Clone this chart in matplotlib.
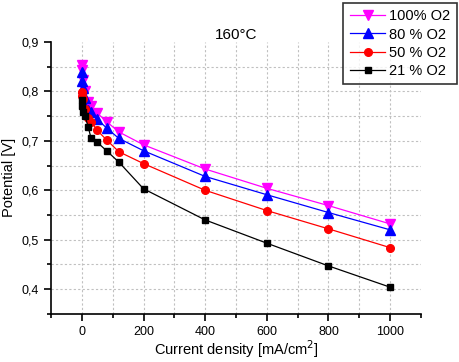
import numpy as np
import matplotlib
matplotlib.use("Agg")
import matplotlib.pyplot as plt
from matplotlib.ticker import MultipleLocator, FuncFormatter

plt.rcParams['font.family'] = ['Liberation Sans', 'DejaVu Sans']

# current density [mA/cm2]
current = [0, 2, 5, 10, 20, 30, 50, 80, 120, 200, 400, 600, 800, 1000]

# potential [V] for each O2 fraction
o2_100 = [0.853, 0.843, 0.823, 0.800, 0.779, 0.771, 0.756, 0.739, 0.718, 0.692, 0.643, 0.604, 0.569, 0.532]
o2_80 = [0.840, 0.822, 0.806, 0.786, 0.763, 0.759, 0.744, 0.726, 0.705, 0.680, 0.628, 0.591, 0.555, 0.520]
o2_50 = [0.798, 0.790, 0.784, 0.764, 0.746, 0.739, 0.721, 0.702, 0.678, 0.654, 0.600, 0.559, 0.522, 0.484]
o2_21 = [0.783, 0.770, 0.759, 0.751, 0.729, 0.705, 0.697, 0.680, 0.657, 0.603, 0.540, 0.493, 0.447, 0.404]

labels = ['100% O2', '80 % O2', '50 % O2', '21 % O2']
colors = ['#ff00ff', '#0000ff', '#ff0000', '#000000']
markers = ['v', '^', 'o', 's']
sizes = [7, 6.5, 5.5, 5]

fig = plt.figure(figsize=(4.6, 3.62), dpi=100)
ax = fig.add_axes([0.111, 0.133, 0.804, 0.751])

series = [o2_100, o2_80, o2_50, o2_21]
handles = []
for y, lab, c, m, s in zip(series, labels, colors, markers, sizes):
    h, = ax.plot(current, y, color=c, marker=m, markersize=s, lw=0.9, label=lab, zorder=3)
    handles.append(h)

ax.set_xlim(-100, 1100)
ax.set_ylim(0.35, 0.9)
ax.xaxis.set_major_locator(MultipleLocator(200))
ax.xaxis.set_minor_locator(MultipleLocator(100))
ax.yaxis.set_major_locator(MultipleLocator(0.1))
ax.yaxis.set_minor_locator(MultipleLocator(0.05))
ax.yaxis.set_major_formatter(FuncFormatter(lambda v, p: f'{v:.1f}'.replace('.', ',')))
ax.xaxis.set_major_formatter(FuncFormatter(lambda v, p: f'{v:.0f}'))

# dotted grid every 100 / 0.05
for gx in np.arange(0, 1001, 100):
    ax.axvline(gx, color='#c0c0c0', lw=0.8, ls=(0, (2, 2)), zorder=1)
for gy in np.arange(0.4, 0.86, 0.05):
    ax.axhline(gy, color='#c0c0c0', lw=0.8, ls=(0, (2, 2)), zorder=1)

for side in ['top', 'right']:
    ax.spines[side].set_visible(False)
for side in ['left', 'bottom']:
    ax.spines[side].set_linewidth(1.2)

ax.tick_params(which='major', direction='out', length=5, width=1.2, labelsize=9, pad=4)
ax.tick_params(which='minor', direction='out', length=3, width=1.2)

ax.set_xlabel('Current density [mA/cm$^2$]', fontsize=10.5, labelpad=0)
ax.set_ylabel('Potential [V]', fontsize=10.5, labelpad=4)
ax.set_title('160°C', fontsize=11, pad=0)

leg = fig.legend(handles=handles, loc='upper right', bbox_to_anchor=(1.0, 1.0),
                 fontsize=10.5, frameon=True, fancybox=False, edgecolor='black',
                 handlelength=2.4, handletextpad=0.3, borderpad=0.45, labelspacing=0.28,
                 borderaxespad=0.2)
leg.get_frame().set_linewidth(1.2)

fig.savefig('out.png', dpi=100)
